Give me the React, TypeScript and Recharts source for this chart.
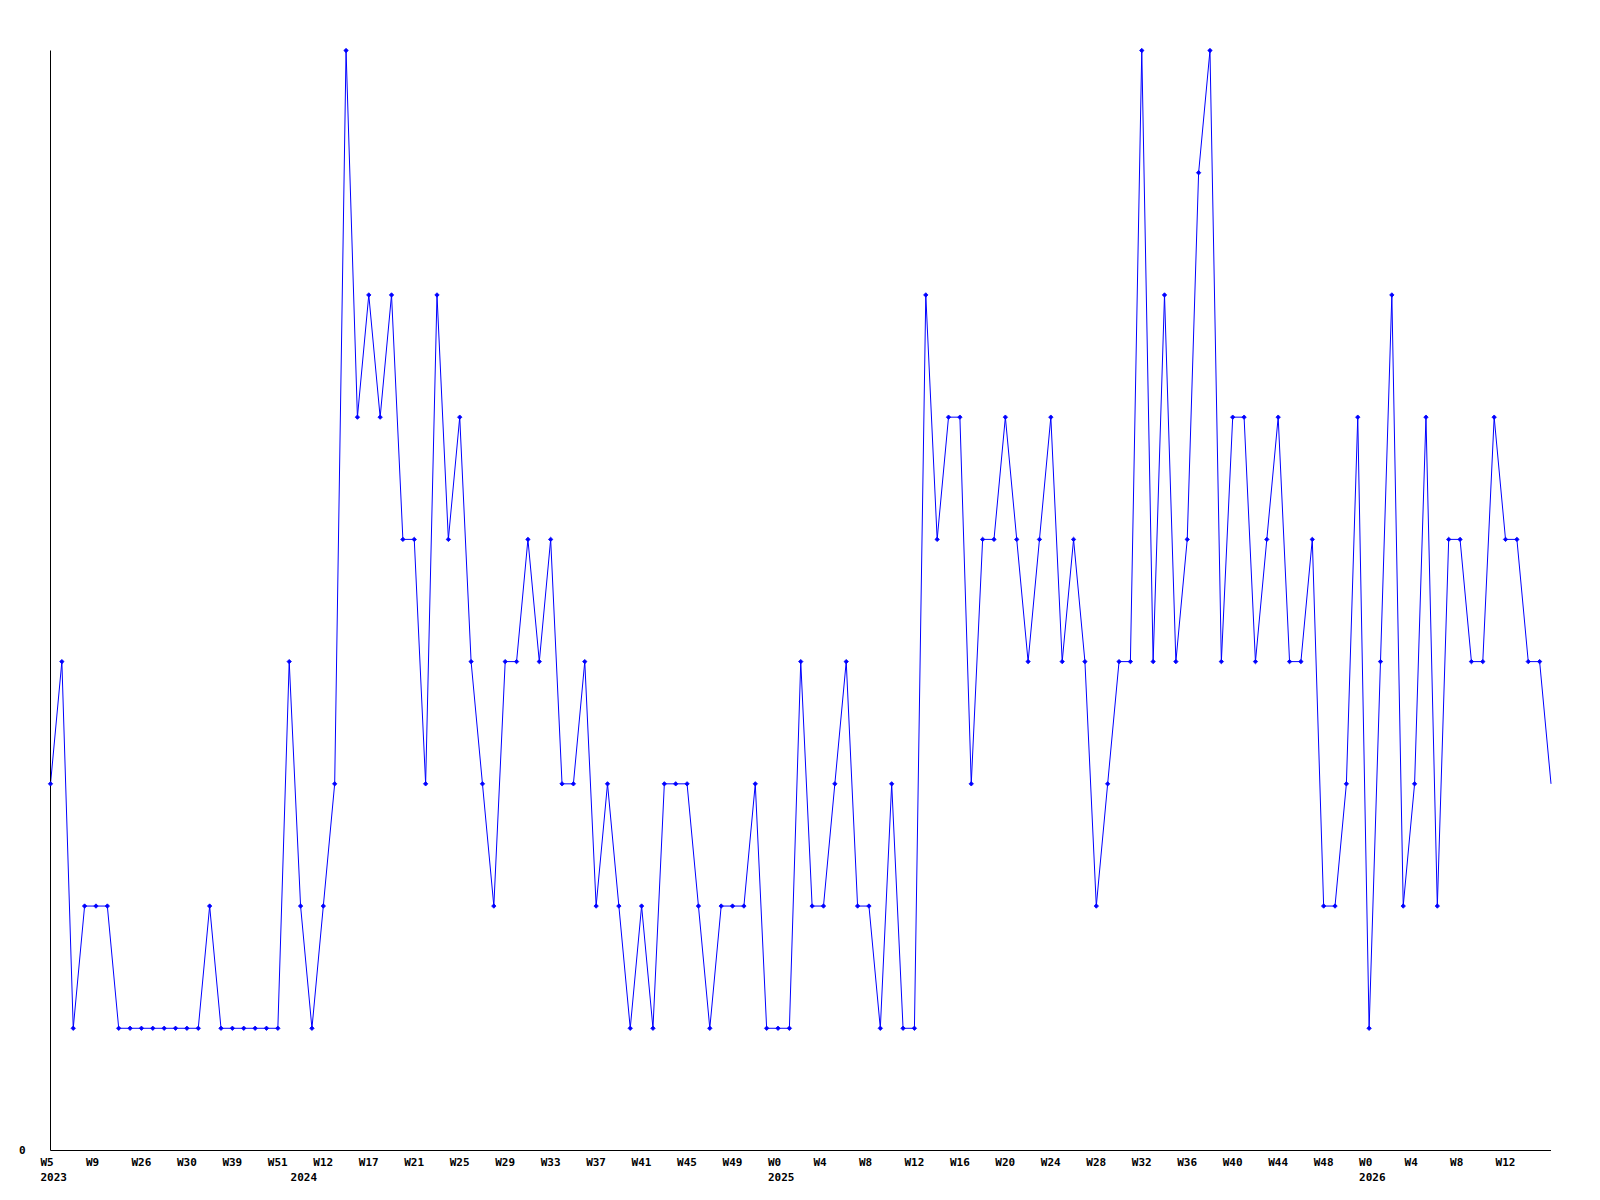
import React from 'react';
import { LineChart, Line, XAxis, YAxis } from 'recharts';

// Weekly counts (one value per plotted week)
const counts: number[] = [
  3, 4, 1, 2, 2, 2, 1, 1, 1, 1,
  1, 1, 1, 1, 2, 1, 1, 1, 1, 1,
  1, 4, 2, 1, 2, 3, 9, 6, 7, 6,
  7, 5, 5, 3, 7, 5, 6, 4, 3, 2,
  4, 4, 5, 4, 5, 3, 3, 4, 2, 3,
  2, 1, 2, 1, 3, 3, 3, 2, 1, 2,
  2, 2, 3, 1, 1, 1, 4, 2, 2, 3,
  4, 2, 2, 1, 3, 1, 1, 7, 5, 6,
  6, 3, 5, 5, 6, 5, 4, 5, 6, 4,
  5, 4, 2, 3, 4, 4, 9, 4, 7, 4,
  5, 8, 9, 4, 6, 6, 4, 5, 6, 4,
  4, 5, 2, 2, 3, 6, 1, 4, 7, 2,
  3, 6, 2, 5, 5, 4, 4, 6, 5, 5,
  4, 4, 3,
];

const weeks2023: string[] = [
  'W5', 'W6', 'W7', 'W8', 'W9', 'W10', 'W11', 'W20', 'W26', 'W27', 'W28',
  'W29', 'W30', 'W31', 'W33', 'W36', 'W39', 'W41', 'W44', 'W47', 'W51', 'W52',
];
const weeks2024: string[] = [
  'W2', 'W6', 'W12', 'W13', 'W14', 'W16', 'W17', 'W18', 'W19', 'W20', 'W21',
  'W22', 'W23', 'W24', 'W25', 'W26', 'W27', 'W28', 'W29', 'W30', 'W31', 'W32',
  'W33', 'W34', 'W35', 'W36', 'W37', 'W38', 'W39', 'W40', 'W41', 'W42', 'W43',
  'W44', 'W45', 'W46', 'W47', 'W48', 'W49', 'W50', 'W51', 'W52',
];
const weeks2025: string[] = [
  'W0', 'W1', 'W2', 'W3', 'W4', 'W5', 'W6', 'W7', 'W8', 'W9', 'W10', 'W11',
  'W12', 'W13', 'W14', 'W15', 'W16', 'W17', 'W18', 'W19', 'W20', 'W21', 'W22',
  'W23', 'W24', 'W25', 'W26', 'W27', 'W28', 'W29', 'W30', 'W31', 'W32', 'W33',
  'W34', 'W35', 'W36', 'W37', 'W38', 'W39', 'W40', 'W41', 'W42', 'W43', 'W44',
  'W45', 'W46', 'W47', 'W48', 'W49', 'W50', 'W51',
];
const weeks2026: string[] = [
  'W0', 'W1', 'W2', 'W3', 'W4', 'W5', 'W6', 'W7', 'W8', 'W9', 'W10', 'W11',
  'W12', 'W13', 'W14', 'W15', 'W16',
];

const yearGroups: { year: string; weeks: string[] }[] = [
  { year: '2023', weeks: weeks2023 },
  { year: '2024', weeks: weeks2024 },
  { year: '2025', weeks: weeks2025 },
  { year: '2026', weeks: weeks2026 },
];

const yTicks: number[] = [0];
const yMax = 9;
const labelEvery = 4;

const data = yearGroups
  .flatMap((g) => g.weeks.map((w) => ({ week: w, year: g.year })))
  .map((d, i) => ({ key: `${d.year}-${d.week}-${i}`, week: d.week, year: d.year, count: counts[i] }));

const FONT = '"DejaVu Sans Mono", "Liberation Mono", monospace';

const WeekTick = (props: any) => {
  const { x, y, payload } = props;
  const i: number = payload?.index ?? props.index ?? 0;
  const last = data.length - 1;
  const showWeek = i % labelEvery === 0 && i < last;
  const showYear = i === 0 || (data[i] && data[i - 1] && data[i].year !== data[i - 1].year);
  return (
    <g>
      {showWeek && (
        <text x={x - 10} y={y + 15.5} textAnchor="start" fontFamily={FONT} fontWeight="bold" fontSize={11} fill="#000">
          {data[i]?.week}
        </text>
      )}
      {showYear && (
        <text x={x - 10} y={y + 30.5} textAnchor="start" fontFamily={FONT} fontWeight="bold" fontSize={11} fill="#000">
          {data[i]?.year}
        </text>
      )}
    </g>
  );
};

const ValueTick = (props: any) => {
  const { x, y, payload } = props;
  return (
    <text x={x - 25} y={y + 3.5} textAnchor="end" fontFamily={FONT} fontWeight="bold" fontSize={11} fill="#000">
      {payload.value}
    </text>
  );
};

const Marker = (props: any) => {
  const { cx, cy, index } = props;
  if (index === data.length - 1 || cx == null || cy == null) return <g key={`m-${index}`} />;
  const r = 2.2;
  return (
    <polygon
      key={`m-${index}`}
      points={`${cx},${cy - r} ${cx + r},${cy} ${cx},${cy + r} ${cx - r},${cy}`}
      fill="#0000ff"
      stroke="#0000ff"
      strokeWidth={0.8}
    />
  );
};

export default function App() {
  return (
    <div style={{ width: 1584, height: 1184, background: '#fff' }}>
      <LineChart
        width={1584}
        height={1184}
        data={data}
        margin={{ top: 42.5, right: 41, bottom: 1.5, left: 0.5 }}
      >
        <XAxis
          dataKey="key"
          interval={0}
          tickLine={false}
          tickSize={0}
          tickMargin={0}
          height={40}
          axisLine={{ stroke: '#000', strokeWidth: 1 }}
          tick={<WeekTick />}
        />
        <YAxis
          domain={[0, yMax]}
          ticks={yTicks}
          width={42}
          tickLine={false}
          tickSize={0}
          tickMargin={0}
          axisLine={{ stroke: '#000', strokeWidth: 1 }}
          tick={<ValueTick />}
        />
        <Line
          type="linear"
          dataKey="count"
          stroke="#0000ff"
          strokeWidth={1}
          dot={(p: any) => <Marker {...p} />}
          activeDot={false}
          isAnimationActive={false}
        />
      </LineChart>
    </div>
  );
}
